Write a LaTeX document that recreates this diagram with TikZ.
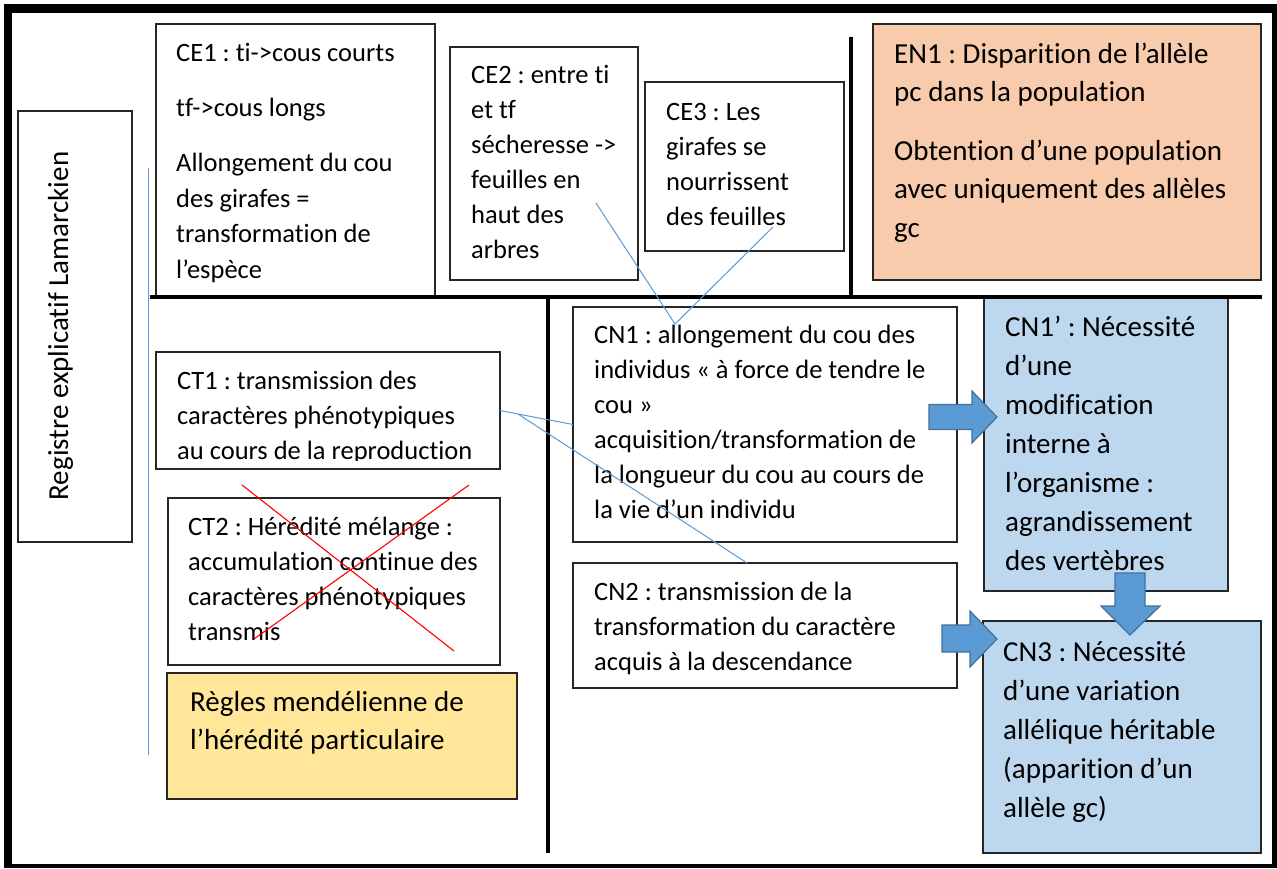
\documentclass[tikz,border=0pt]{standalone}
\usepackage{fontspec}
\setmainfont{Carlito}[Ligatures={NoCommon}]
\definecolor{enfill}{HTML}{F8CBAD}
\definecolor{cnfill}{HTML}{BDD7EE}
\definecolor{yfill}{HTML}{FFE699}
\definecolor{abl}{HTML}{5B9BD5}
\definecolor{abd}{HTML}{41719C}
\newcommand\myst{\rule{0pt}{0.8em}}
\frenchspacing
\begin{document}
\begin{tikzpicture}[x=1pt,y=-1pt,
  box/.style={draw=black!85, line width=1.1pt, anchor=north west, inner sep=0pt, outer sep=0pt},
  tA/.style={anchor=north west, inner sep=0pt, align=left, font=\fontsize{26.5}{35.5}\selectfont},
  tB/.style={anchor=north west, inner sep=0pt, align=left, font=\fontsize{29}{39}\selectfont},
  thick line/.style={line width=4pt, black},
  conn/.style={draw=abl, line width=1pt},
  barrow/.style={fill=abl, draw=abd, line width=1.2pt, line join=miter},
  cross/.style={draw=red, line width=1.1pt}]
\useasboundingbox (0,0) rectangle (1277,868);
\fill[white] (0,0) rectangle (1277,868);
% outer frame
\fill[black] (4,4) rectangle (1277,13);
\fill[black] (4,4) rectangle (12,868);
\fill[black] (1272,4) rectangle (1277,868);
\fill[black] (4,864) rectangle (1277,868);

% boxes
\node[box, minimum width=114pt, minimum height=431pt] (reg) at (18,111) {};
\node[rotate=90, anchor=base, inner sep=0pt, font=\fontsize{29}{39}\selectfont] (regt) at (68,326) {Registre explicatif Lamarckien};

\node[box, minimum width=279pt, minimum height=273pt] (ce1) at (156,24) {};
\node[box, minimum width=188pt, minimum height=233pt] (ce2) at (450,47) {};
\node[box, minimum width=199pt, minimum height=169pt] (ce3) at (645,82) {};
\node[box, fill=enfill, minimum width=388pt, minimum height=256pt] (en1) at (873,24) {};
\node[box, minimum width=344pt, minimum height=117pt] (ct1) at (156,352) {};
\node[box, minimum width=332pt, minimum height=167pt] (ct2) at (168,498) {};
\node[box, fill=yfill, minimum width=350pt, minimum height=126pt] (reg2) at (167,673) {};
\node[box, minimum width=384pt, minimum height=235pt] (cn1) at (573,307) {};
\node[box, minimum width=384pt, minimum height=125pt] (cn2) at (573,563) {};
\node[box, fill=cnfill, minimum width=244pt, minimum height=293pt] (cn1p) at (984,298) {};
\node[box, fill=cnfill, minimum width=278pt, minimum height=232pt] (cn3) at (983,621) {};

% texts
\node[tA] (ce1t) at (176,39.8) {\myst CE1 : ti->cous courts\\[20pt]tf->cous longs\\[19.5pt]Allongement du cou\\des girafes =\\transformation de\\l’espèce};
\node[tA, font=\fontsize{26.5}{35}\selectfont] (ce2t) at (471,61.8) {\myst CE2 : entre ti\\et tf\\sécheresse ->\\feuilles en\\haut des\\arbres};
\node[tA, font=\fontsize{26.5}{35}\selectfont] (ce3t) at (666,98.8) {\myst CE3 : Les\\girafes se\\nourrissent\\des feuilles};
\node[tB, font=\fontsize{29}{38.7}\selectfont] (en1t) at (894,39.8) {\myst EN1 : Disparition de l’allèle\\pc dans la population\\[19.5pt]Obtention d’une population\\avec uniquement des allèles\\gc};
\begin{scope}
\clip (156,352) rectangle (500,460);
\node[tA, font=\fontsize{26.5}{35}\selectfont] (ct1t) at (177,367.8) {\myst CT1 : transmission des\\caractères phénotypiques\\au cours de la reproduction};
\end{scope}
\node[tA, font=\fontsize{26.5}{35}\selectfont] (ct2t) at (188,513.8) {\myst CT2 : Hérédité mélange :\\accumulation continue des\\caractères phénotypiques\\transmis};
\node[tB, font=\fontsize{29}{38.7}\selectfont] (reg2t) at (190,687.8) {\myst Règles mendélienne de\\l’hérédité particulaire};
\node[tA, font=\fontsize{26.5}{35}\selectfont] (cn1t) at (594,321.8) {\myst CN1 : allongement du cou des\\individus « à force de tendre le\\cou »\\acquisition/transformation de\\la longueur du cou au cours de\\la vie d’un individu};
\node[tA, font=\fontsize{26.5}{35}\selectfont] (cn2t) at (594,578.8) {\myst CN2 : transmission de la\\transformation du caractère\\acquis à la descendance};
\node[tB] (cn1pt) at (1005,312.8) {\myst CN1’ : Nécessité\\d’une\\modification\\interne à\\l’organisme :\\agrandissement\\des vertèbres};
\node[tB] (cn3t) at (1003,637.8) {\myst CN3 : Nécessité\\d’une variation\\allélique héritable\\(apparition d’un\\allèle gc)};

% thick separators
\draw[thick line] (150,297) -- (1262,297);
\draw[thick line] (851,37) -- (851,297);
\draw[thick line] (548,297) -- (548,853);

% thin blue vertical line
\draw[conn] (148,168) -- (148,755);

% red cross
\draw[cross] (242,485) -- (454,651);
\draw[cross] (469,485) -- (254,639);

% connectors
\coordinate (p2) at (596,203);
\coordinate (p3) at (773,227);
\coordinate (q1) at (675,324);
\draw[conn] (p2) -- (q1) -- (p3);
\coordinate (j) at (518,414);
\draw[conn] (ct1.east) -- (j) -- (cn1.west);
\draw[conn] (j) -- ([xshift=174pt]cn2.north west);

% block arrows
\draw[barrow] (929,404.5) -- (972,404.5) -- (972,391) -- (997,417) -- (972,443) -- (972,429.5) -- (929,429.5) -- cycle;
\draw[barrow] (942,625) -- (970,625) -- (970,611) -- (997,639) -- (970,667) -- (970,652) -- (942,652) -- cycle;
\draw[barrow] (1115,573) -- (1145,573) -- (1145,606) -- (1160,606) -- (1130,635) -- (1101,606) -- (1115,606) -- cycle;
\end{tikzpicture}
\end{document}
